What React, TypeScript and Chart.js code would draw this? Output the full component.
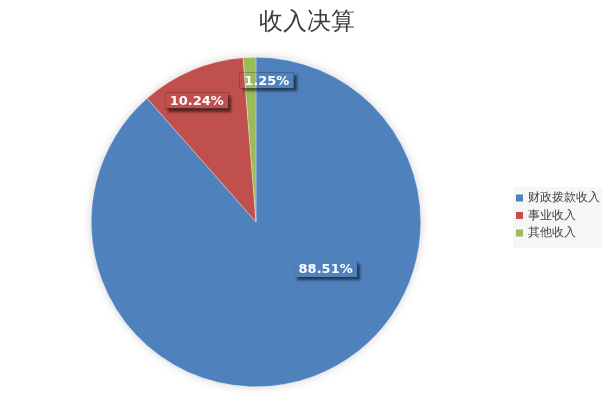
import React, { useEffect, useRef } from "react";
import { Chart, registerables } from "chart.js";

Chart.register(...registerables);

const title = "收入决算";
const categories = ["财政拨款收入", "事业收入", "其他收入"];
const values = [88.51, 10.24, 1.25];
const valueLabels = ["88.51%", "10.24%", "1.25%"];
const colors = ["#4F81BD", "#C0504D", "#9BBB59"];
// label placement: angle shift from slice middle (degrees) and radius fraction
const labelAngleShift = [-35.3, -3.1, 6.6];
const labelRadius = [0.51, 0.82, 0.863];

const pieShadow = {
  id: "pieShadow",
  beforeDatasetsDraw(chart: any) {
    const meta = chart.getDatasetMeta(0);
    const arc = meta.data[0];
    if (!arc) return;
    const ctx = chart.ctx;
    ctx.save();
    ctx.shadowColor = "rgba(0,0,0,0.18)";
    ctx.shadowBlur = 10;
    ctx.fillStyle = "#ffffff";
    ctx.beginPath();
    ctx.arc(arc.x, arc.y, arc.outerRadius, 0, Math.PI * 2);
    ctx.fill();
    ctx.restore();
  },
};

const boxLabels = {
  id: "boxLabels",
  afterDatasetsDraw(chart: any) {
    const meta = chart.getDatasetMeta(0);
    const ctx = chart.ctx;
    ctx.save();
    ctx.font = "bold 13px 'DejaVu Sans'";
    ctx.textAlign = "center";
    ctx.textBaseline = "middle";
    meta.data.forEach((arc: any, i: number) => {
      const mid = (arc.startAngle + arc.endAngle) / 2 + (labelAngleShift[i] * Math.PI) / 180;
      const r = arc.outerRadius * labelRadius[i];
      const cx = arc.x + Math.cos(mid) * r;
      const cy = arc.y + Math.sin(mid) * r;
      const text = valueLabels[i];
      const w = ctx.measureText(text).width + 9;
      const h = 16;
      const bx = cx - w / 2;
      const by = cy - h / 2;
      // shadow only outside the (transparent) box
      ctx.save();
      ctx.beginPath();
      ctx.rect(0, 0, chart.width, chart.height);
      ctx.rect(bx, by, w, h);
      ctx.clip("evenodd");
      ctx.shadowColor = "rgba(0,0,0,0.55)";
      ctx.shadowBlur = 2.5;
      ctx.shadowOffsetX = 3;
      ctx.shadowOffsetY = 3;
      ctx.fillStyle = "#000";
      ctx.fillRect(bx, by, w, h);
      ctx.restore();
      ctx.fillStyle = "#ffffff";
      ctx.fillText(text, cx, cy + 1);
    });
    ctx.restore();
  },
};

const titleAndLegend = {
  id: "titleAndLegend",
  afterDraw(chart: any) {
    const ctx = chart.ctx;
    ctx.save();
    ctx.font = "24px serif";
    ctx.fillStyle = "#3c3c3c";
    ctx.textAlign = "center";
    ctx.textBaseline = "middle";
    ctx.fillText(title, chart.width / 2, 23);

    const left = 513;
    const top = 187;
    const width = 89;
    const height = 61;
    ctx.fillStyle = "#f6f6f6";
    ctx.fillRect(left, top, width, height);
    ctx.font = "12px serif";
    ctx.textAlign = "left";
    categories.forEach((c, i) => {
      const y = top + 11 + i * 17.5;
      ctx.fillStyle = colors[i];
      ctx.fillRect(left + 3, y - 3.5, 7, 7);
      ctx.fillStyle = "#404040";
      ctx.fillText(c, left + 15, y);
    });
    ctx.restore();
  },
};

export default function App() {
  const ref = useRef<HTMLCanvasElement>(null);
  useEffect(() => {
    if (!ref.current) return;
    const chart = new Chart(ref.current, {
      type: "pie",
      data: {
        labels: categories,
        datasets: [
          {
            data: values,
            backgroundColor: colors,
            borderColor: "rgba(255,255,255,0.6)",
            borderWidth: 0.5,
            hoverOffset: 0,
          },
        ],
      },
      options: {
        animation: false,
        responsive: false,
        layout: { padding: { left: 0, right: 101, top: 57, bottom: 16 } },
        plugins: {
          legend: { display: false },
          tooltip: { enabled: false },
          title: { display: false },
        },
      },
      plugins: [pieShadow, boxLabels, titleAndLegend],
    });
    return () => chart.destroy();
  }, []);
  return (
    <div style={{ position: "fixed", left: 0, top: 0, width: 613, height: 403, background: "#fff" }}>
      <canvas ref={ref} width={613} height={403} style={{ width: 613, height: 403 }} />
    </div>
  );
}
